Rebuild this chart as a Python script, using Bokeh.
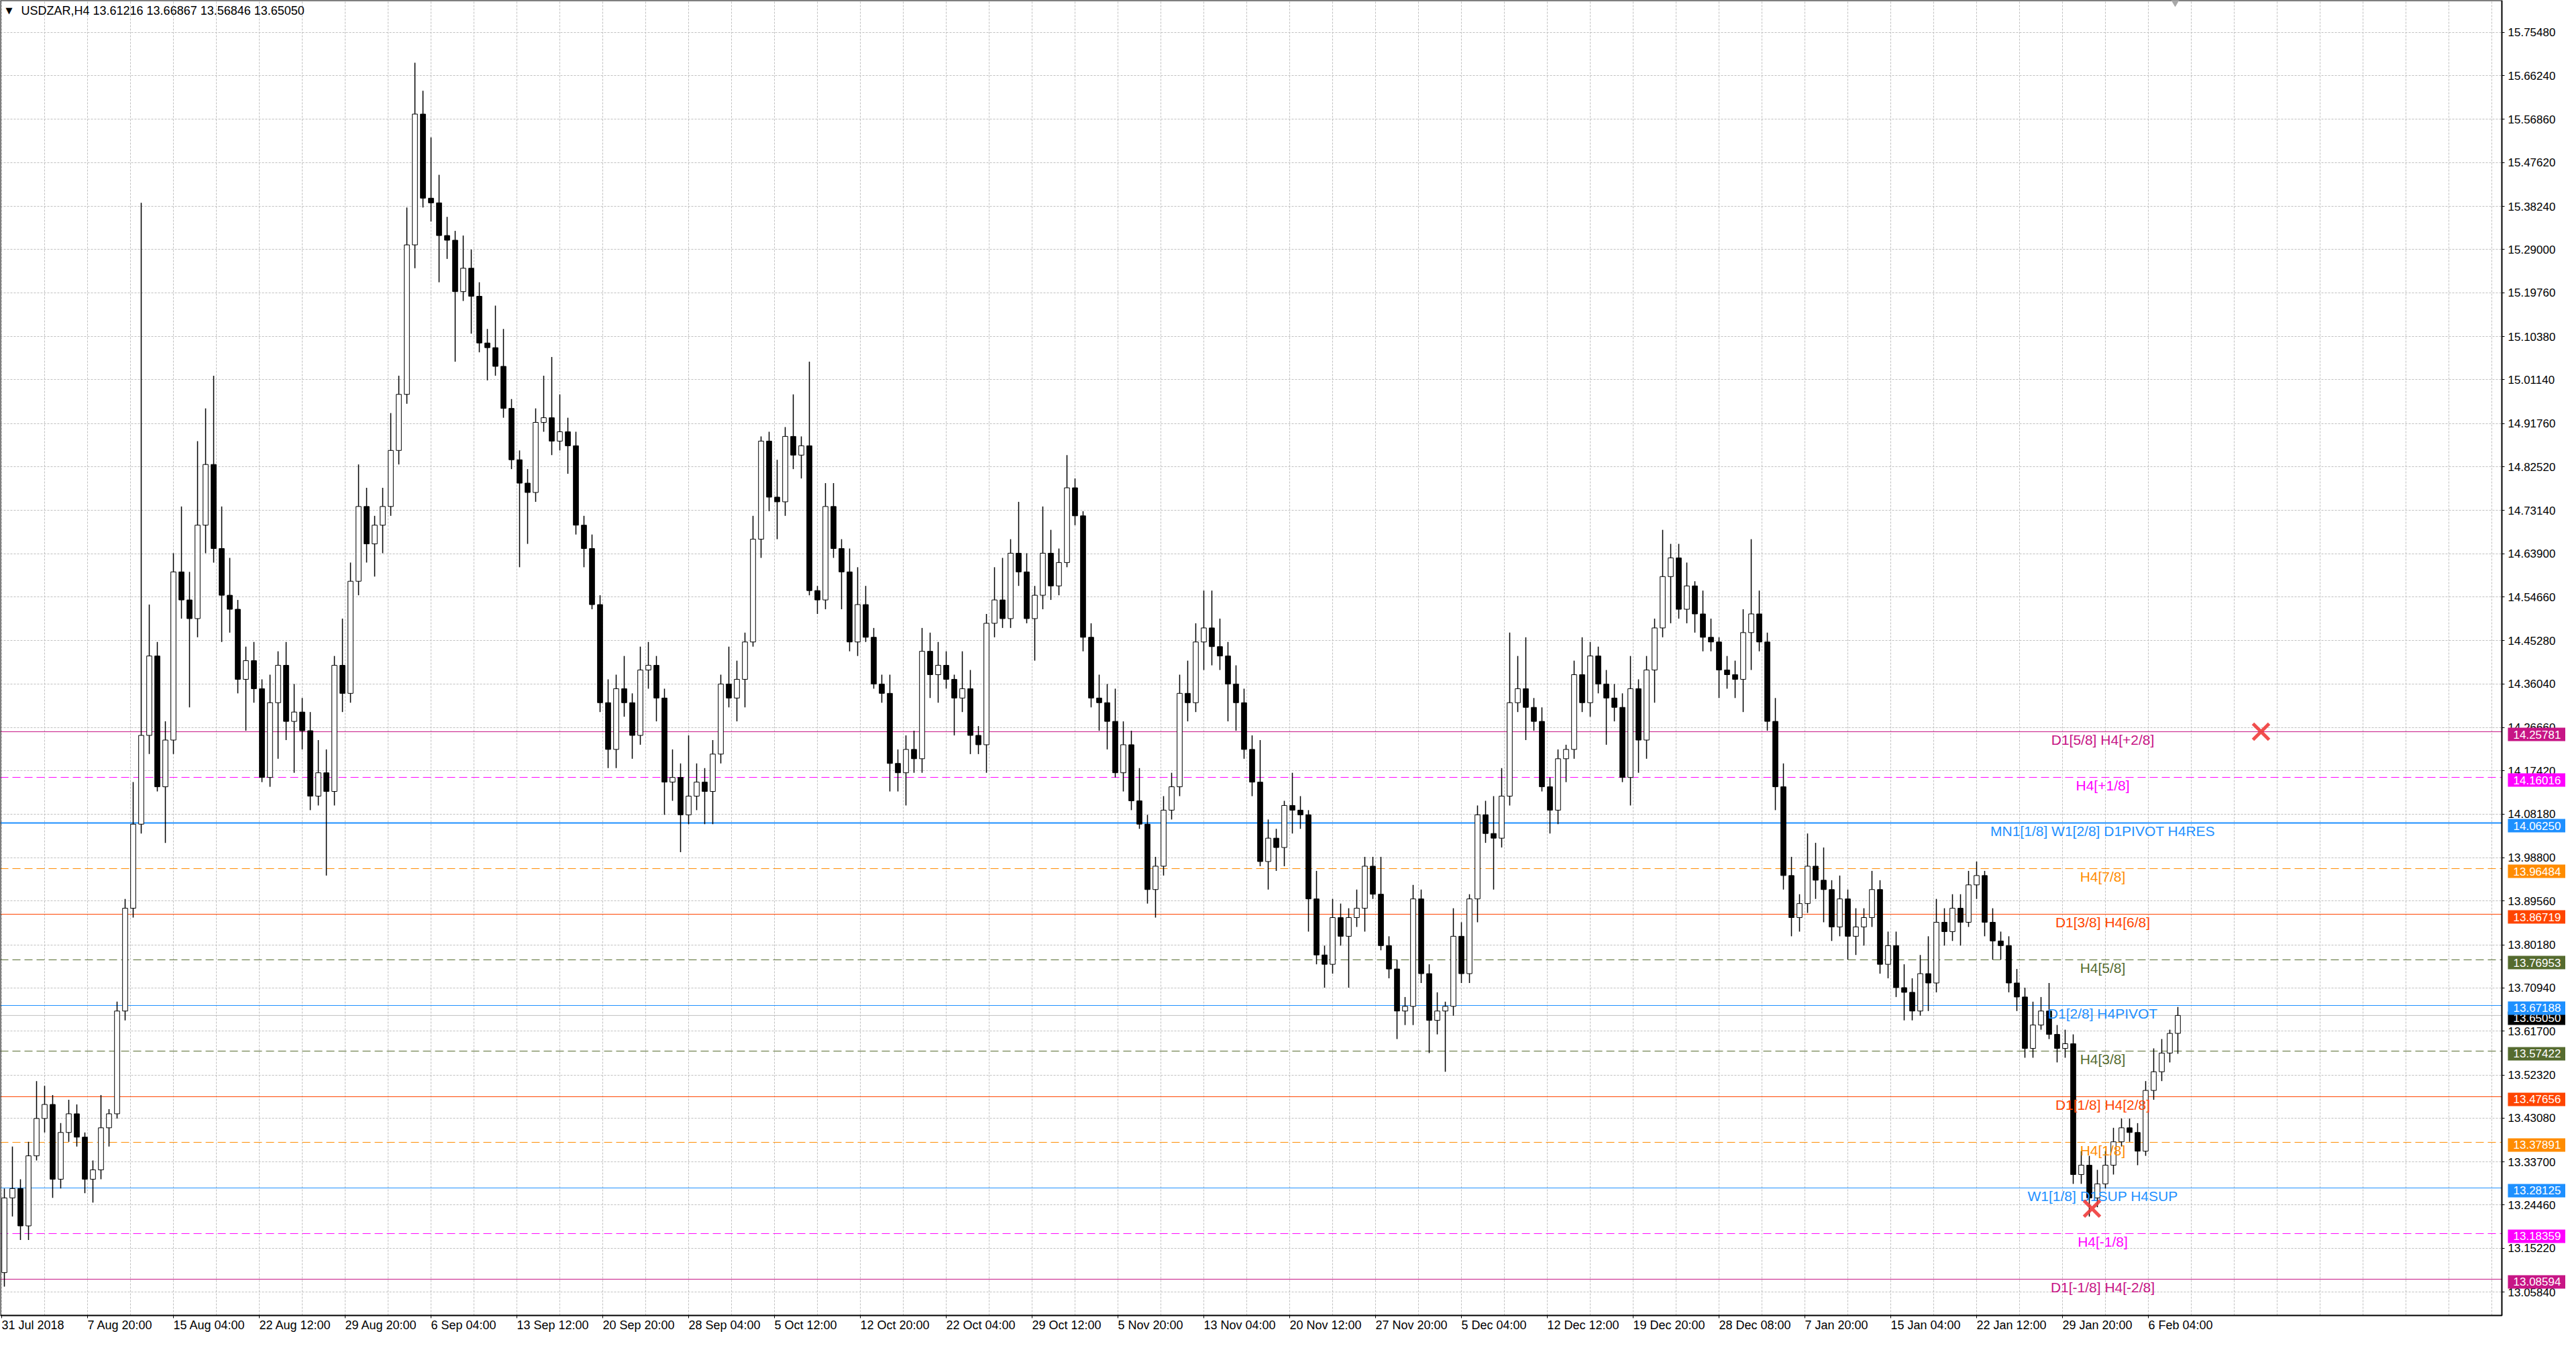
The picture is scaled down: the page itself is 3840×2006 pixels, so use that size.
from bokeh.plotting import figure
from bokeh.models import ColumnDataSource, Range1d, FixedTicker, PrintfTickFormatter, Span, Label
from bokeh.core.properties import value
from bokeh.embed import file_html
from bokeh.resources import INLINE


# Chart data (USDZAR H4, one candle = 3 bars)
symbol = "USDZAR,H4"
last_bar = [13.61216, 13.66867, 13.56846, 13.65050]
first_open = 13.10
closes = [
    13.26, 13.28, 13.20, 13.35, 13.43, 13.46, 13.30, 13.40, 13.44, 13.39,
    13.30, 13.32, 13.41, 13.44, 13.66, 13.88, 14.06, 14.25, 14.42, 14.14,
    14.24, 14.60, 14.54, 14.50, 14.70, 14.83, 14.65, 14.55, 14.52, 14.37,
    14.41, 14.35, 14.16, 14.32, 14.40, 14.28, 14.30, 14.26, 14.12, 14.17,
    14.13, 14.40, 14.34, 14.58, 14.74, 14.66, 14.70, 14.74, 14.86, 14.98,
    15.30, 15.58, 15.40, 15.39, 15.32, 15.31, 15.20, 15.25, 15.19, 15.09,
    15.08, 15.04, 14.95, 14.84, 14.79, 14.77, 14.92, 14.93, 14.88, 14.90,
    14.87, 14.70, 14.65, 14.53, 14.32, 14.22, 14.35, 14.32, 14.25, 14.39,
    14.40, 14.33, 14.15, 14.16, 14.08, 14.12, 14.15, 14.13, 14.21, 14.36,
    14.33, 14.37, 14.45, 14.67, 14.88, 14.76, 14.75, 14.89, 14.85, 14.87,
    14.56, 14.54, 14.74, 14.65, 14.60, 14.45, 14.53, 14.46, 14.36, 14.34,
    14.19, 14.17, 14.22, 14.20, 14.43, 14.38, 14.40, 14.37, 14.33, 14.35,
    14.25, 14.23, 14.49, 14.54, 14.50, 14.64, 14.60, 14.50, 14.55, 14.64,
    14.57, 14.62, 14.78, 14.72, 14.46, 14.33, 14.32, 14.28, 14.17, 14.23,
    14.11, 14.06, 13.92, 13.97, 14.09, 14.14, 14.34, 14.32, 14.45, 14.48,
    14.44, 14.42, 14.36, 14.32, 14.22, 14.15, 13.98, 14.03, 14.01, 14.10,
    14.09, 14.08, 13.90, 13.78, 13.76, 13.86, 13.82, 13.86, 13.88, 13.97,
    13.91, 13.80, 13.75, 13.66, 13.67, 13.90, 13.74, 13.64, 13.66, 13.67,
    13.82, 13.74, 13.90, 14.08, 14.04, 14.03, 14.12, 14.32, 14.35, 14.31,
    14.28, 14.14, 14.09, 14.20, 14.22, 14.38, 14.32, 14.42, 14.36, 14.33,
    14.31, 14.16, 14.35, 14.24, 14.39, 14.48, 14.59, 14.63, 14.52, 14.57,
    14.51, 14.46, 14.45, 14.39, 14.38, 14.37, 14.47, 14.51, 14.45, 14.28,
    14.14, 13.95, 13.86, 13.89, 13.97, 13.94, 13.92, 13.84, 13.90, 13.82,
    13.84, 13.86, 13.92, 13.76, 13.80, 13.71, 13.70, 13.66, 13.74, 13.72,
    13.85, 13.83, 13.88, 13.85, 13.93, 13.95, 13.85, 13.81, 13.80, 13.72,
    13.69, 13.58, 13.63, 13.66, 13.61, 13.58, 13.59, 13.31, 13.33, 13.26,
    13.29, 13.33, 13.38, 13.41, 13.40, 13.36, 13.49, 13.53, 13.57, 13.61216,
    13.65050,
]
highs = [
    13.28, 13.37, 13.30, 13.38, 13.51, 13.50, 13.48, 13.42, 13.47, 13.46,
    13.40, 13.34, 13.48, 13.45, 13.68, 13.90, 14.15, 15.39, 14.53, 14.45,
    14.28, 14.64, 14.74, 14.60, 14.88, 14.95, 15.02, 14.74, 14.63, 14.54,
    14.44, 14.45, 14.37, 14.38, 14.43, 14.45, 14.36, 14.33, 14.30, 14.24,
    14.22, 14.42, 14.50, 14.62, 14.83, 14.78, 14.72, 14.78, 14.94, 15.02,
    15.38, 15.69, 15.63, 15.53, 15.45, 15.36, 15.33, 15.32, 15.29, 15.22,
    15.12, 15.17, 15.12, 14.97, 14.86, 14.82, 14.95, 15.02, 15.06, 14.98,
    14.93, 14.90, 14.72, 14.68, 14.55, 14.37, 14.38, 14.42, 14.34, 14.44,
    14.45, 14.42, 14.35, 14.22, 14.19, 14.25, 14.19, 14.18, 14.24, 14.38,
    14.44, 14.41, 14.47, 14.72, 14.89, 14.90, 14.84, 14.91, 14.98, 14.89,
    15.05, 14.57, 14.79, 14.79, 14.67, 14.65, 14.61, 14.57, 14.48, 14.38,
    14.38, 14.22, 14.25, 14.26, 14.48, 14.47, 14.45, 14.43, 14.38, 14.43,
    14.39, 14.27, 14.51, 14.61, 14.63, 14.67, 14.75, 14.64, 14.57, 14.74,
    14.69, 14.65, 14.85, 14.80, 14.73, 14.49, 14.38, 14.36, 14.35, 14.28,
    14.26, 14.18, 14.08, 13.99, 14.12, 14.17, 14.38, 14.41, 14.49, 14.56,
    14.56, 14.50, 14.45, 14.40, 14.35, 14.25, 14.24, 14.07, 14.05, 14.11,
    14.17, 14.12, 14.09, 13.96, 13.80, 13.90, 13.89, 13.88, 13.92, 13.99,
    13.99, 13.99, 13.82, 13.77, 13.69, 13.93, 13.92, 13.76, 13.70, 13.68,
    13.88, 13.85, 13.91, 14.10, 14.11, 14.12, 14.18, 14.47, 14.42, 14.46,
    14.33, 14.31, 14.16, 14.22, 14.23, 14.41, 14.46, 14.45, 14.44, 14.39,
    14.36, 14.34, 14.42, 14.37, 14.42, 14.50, 14.69, 14.66, 14.66, 14.62,
    14.58, 14.56, 14.50, 14.46, 14.42, 14.41, 14.52, 14.67, 14.56, 14.47,
    14.33, 14.19, 13.99, 13.91, 14.04, 14.02, 14.01, 13.94, 13.95, 13.92,
    13.88, 13.88, 13.96, 13.94, 13.83, 13.83, 13.76, 13.73, 13.78, 13.82,
    13.90, 13.88, 13.91, 13.91, 13.96, 13.98, 13.96, 13.88, 13.83, 13.82,
    13.75, 13.71, 13.68, 13.69, 13.72, 13.63, 13.62, 13.61, 13.36, 13.35,
    13.32, 13.36, 13.41, 13.43, 13.43, 13.42, 13.51, 13.58, 13.60, 13.62,
    13.66867,
]
lows = [
    13.07, 13.22, 13.17, 13.17, 13.34, 13.40, 13.26, 13.28, 13.38, 13.37,
    13.27, 13.25, 13.30, 13.37, 13.43, 13.64, 13.86, 14.04, 14.21, 14.13,
    14.02, 14.21, 14.50, 14.31, 14.46, 14.64, 14.62, 14.45, 14.47, 14.34,
    14.26, 14.32, 14.15, 14.14, 14.20, 14.24, 14.17, 14.22, 14.09, 14.10,
    13.95, 14.10, 14.30, 14.32, 14.55, 14.62, 14.59, 14.64, 14.72, 14.83,
    14.96, 15.25, 15.38, 15.35, 15.22, 15.27, 15.05, 15.18, 15.11, 15.07,
    15.01, 15.02, 14.93, 14.82, 14.61, 14.66, 14.75, 14.90, 14.85, 14.86,
    14.81, 14.68, 14.61, 14.52, 14.30, 14.18, 14.18, 14.29, 14.20, 14.23,
    14.35, 14.28, 14.08, 14.11, 14.00, 14.06, 14.09, 14.06, 14.06, 14.19,
    14.31, 14.28, 14.31, 14.44, 14.63, 14.73, 14.67, 14.72, 14.82, 14.80,
    14.55, 14.51, 14.52, 14.63, 14.52, 14.43, 14.42, 14.45, 14.35, 14.32,
    14.13, 14.13, 14.10, 14.17, 14.17, 14.33, 14.32, 14.35, 14.25, 14.30,
    14.21, 14.21, 14.17, 14.46, 14.48, 14.48, 14.57, 14.49, 14.41, 14.52,
    14.54, 14.55, 14.61, 14.70, 14.43, 14.31, 14.26, 14.22, 14.16, 14.13,
    14.09, 14.05, 13.89, 13.86, 13.95, 14.07, 14.12, 14.28, 14.30, 14.39,
    14.40, 14.39, 14.28, 14.26, 14.20, 14.12, 13.97, 13.92, 13.96, 13.97,
    14.04, 14.05, 13.83, 13.76, 13.71, 13.74, 13.80, 13.71, 13.84, 13.83,
    13.90, 13.79, 13.73, 13.60, 13.63, 13.63, 13.72, 13.57, 13.61, 13.53,
    13.65, 13.72, 13.72, 13.85, 14.02, 13.92, 14.01, 14.10, 14.30, 14.24,
    14.26, 14.13, 14.04, 14.06, 14.15, 14.20, 14.30, 14.29, 14.34, 14.23,
    14.28, 14.15, 14.10, 14.17, 14.20, 14.32, 14.46, 14.49, 14.50, 14.49,
    14.47, 14.43, 14.43, 14.33, 14.35, 14.33, 14.30, 14.39, 14.43, 14.26,
    14.09, 13.92, 13.82, 13.83, 13.87, 13.90, 13.85, 13.81, 13.82, 13.77,
    13.78, 13.80, 13.84, 13.74, 13.73, 13.69, 13.64, 13.64, 13.65, 13.66,
    13.70, 13.80, 13.81, 13.80, 13.84, 13.90, 13.82, 13.77, 13.77, 13.70,
    13.66, 13.56, 13.56, 13.62, 13.60, 13.55, 13.56, 13.29, 13.29, 13.22,
    13.24, 13.28, 13.31, 13.37, 13.38, 13.33, 13.35, 13.47, 13.51, 13.55,
    13.56846,
]
bars_per_candle = 3

# time axis: labels every 32 bars, grid every 16 bars
date_ticks = [0, 32, 64, 96, 128, 160, 192, 224, 256, 288, 320, 352, 384,
              416, 448, 480, 512, 544, 576, 608, 640, 672, 704, 736, 768, 800]
date_labels = ["31 Jul 2018", "7 Aug 20:00", "15 Aug 04:00", "22 Aug 12:00",
               "29 Aug 20:00", "6 Sep 04:00", "13 Sep 12:00", "20 Sep 20:00",
               "28 Sep 04:00", "5 Oct 12:00", "12 Oct 20:00", "22 Oct 04:00",
               "29 Oct 12:00", "5 Nov 20:00", "13 Nov 04:00", "20 Nov 12:00",
               "27 Nov 20:00", "5 Dec 04:00", "12 Dec 12:00", "19 Dec 20:00",
               "28 Dec 08:00", "7 Jan 20:00", "15 Jan 04:00", "22 Jan 12:00",
               "29 Jan 20:00", "6 Feb 04:00"]
grid_bars = [16 * i for i in range(59)]

price_ticks = [13.05840, 13.15220, 13.24460, 13.33700, 13.43080, 13.52320,
               13.61700, 13.70940, 13.80180, 13.89560, 13.98800, 14.08180,
               14.17420, 14.26660, 14.36040, 14.45280, 14.54660, 14.63900,
               14.73140, 14.82520, 14.91760, 15.01140, 15.10380, 15.19760,
               15.29000, 15.38240, 15.47620, 15.56860, 15.66240, 15.75480]

# Murrey math levels drawn on the chart
level_prices = [14.25781, 14.16016, 14.06250, 13.96484, 13.86719, 13.76953, 13.67188,
                13.57422, 13.47656, 13.37891, 13.28125, 13.18359, 13.08594]
level_names = ["D1[5/8] H4[+2/8]", "H4[+1/8]", "MN1[1/8] W1[2/8] D1PIVOT H4RES",
               "H4[7/8]", "D1[3/8] H4[6/8]", "H4[5/8]", "D1[2/8] H4PIVOT", "H4[3/8]",
               "D1[1/8] H4[2/8]", "H4[1/8]", "W1[1/8] D1SUP H4SUP", "H4[-1/8]",
               "D1[-1/8] H4[-2/8]"]
level_colors = ["#C71585", "#FF00FF", "#1E90FF", "#FF8C00", "#FF4500", "#556B2F", "#1E90FF",
                "#556B2F", "#FF4500", "#FF8C00", "#1E90FF", "#FF00FF", "#C71585"]
level_dashed = [False, True, False, True, False, True, False,
                True, False, True, False, True, False]
level_widths = [1, 1, 2, 1, 1, 1, 1, 1, 1, 1, 1, 1, 1]
level_text_bar = 783

cross_bars = [779, 842]
cross_prices = [13.237, 14.258]
shift_bar = 810


opens = [first_open] + closes[:-1]
xs = [bars_per_candle * i + 1 for i in range(len(closes))]
source = ColumnDataSource(dict(
    x=xs,
    high=highs,
    low=lows,
    top=[max(o, c) for o, c in zip(opens, closes)],
    bottom=[min(o, c) for o, c in zip(opens, closes)],
    fill=["white" if c >= o else "black" for o, c in zip(opens, closes)],
))

# the frame fills the whole figure: 4 px per bar;
# the price scale strip (right) and the time scale strip (bottom) live inside it
x_start, x_end = -0.5, 955.5
chart_end = 931.75
y_start, y_end = 12.9652, 15.8235
chart_bottom = 13.0083

p = figure(
    width=3824, height=1990,
    x_range=Range1d(x_start, x_end), y_range=Range1d(y_start, y_end),
    y_axis_location="right",
    toolbar_location=None, output_backend="svg",
    min_border_left=0, min_border_top=0, min_border_right=0, min_border_bottom=0,
)
p.background_fill_color = "white"
p.border_fill_color = "white"
p.outline_line_color = None

# axes
p.yaxis.fixed_location = chart_end
p.xaxis.fixed_location = chart_bottom
p.yaxis.ticker = FixedTicker(ticks=price_ticks)
p.yaxis.formatter = PrintfTickFormatter(format="%.5f")
p.xaxis.ticker = FixedTicker(ticks=date_ticks)
p.xaxis.major_label_overrides = dict(zip(date_ticks, date_labels))
p.xaxis.major_label_orientation = -0.0001
for ax in (p.xaxis, p.yaxis):
    ax.axis_line_color = None
    ax.major_tick_line_color = "black"
    ax.major_tick_in = 0
    ax.major_tick_out = 4
    ax.minor_tick_in = 0
    ax.minor_tick_out = 0
    ax.major_label_text_color = "black"
    ax.major_label_text_font = "Liberation Sans"
p.yaxis.major_label_text_font_size = "17px"
p.yaxis.major_label_standoff = 5
p.xaxis.major_label_text_font_size = "18px"
p.xaxis.major_label_standoff = 11

p.xgrid.ticker = FixedTicker(ticks=grid_bars)
p.grid.grid_line_color = "#c0c0c0"
p.grid.grid_line_dash = "3 2"
p.grid.grid_line_width = 1

# level lines and the bid line
for price, color, dashed, lw in zip(level_prices, level_colors, level_dashed, level_widths):
    p.add_layout(Span(location=price, dimension="width", line_color=color,
                      line_width=lw, line_dash="12 6" if dashed else "solid",
                      level="underlay"))
p.add_layout(Span(location=last_bar[3], dimension="width", line_color="#c0c0c0",
                  line_width=1, level="underlay"))

# blank scale strips and the chart border
p.quad(left=[chart_end, x_start - 2], right=[x_end + 2, x_end + 2],
       bottom=[y_start - 0.1, y_start - 0.1], top=[y_end + 0.1, chart_bottom],
       fill_color="white", line_color=None)
p.quad(left=x_start, right=chart_end, bottom=chart_bottom, top=y_end,
       fill_color=None, line_color="black", line_width=2)

# candles
p.segment(x0="x", y0="high", x1="x", y1="low", source=source,
          line_color="black", line_width=1.5)
p.vbar(x="x", width=1.9, top="top", bottom="bottom", source=source,
       fill_color="fill", line_color="black", line_width=1)

# level captions
p.text(x=[level_text_bar] * len(level_prices), y=level_prices, text=level_names,
       text_color=level_colors, text_align="center", text_baseline="middle",
       y_offset=12, text_font=value("Liberation Sans"), text_font_size="21px")

# trade marks
p.scatter(x=cross_bars, y=cross_prices, marker="x", size=34,
          line_color="#ef3b3b", line_width=5, line_alpha=0.9)
p.scatter(x=[shift_bar], y=[y_end], marker="inverted_triangle", size=16,
          fill_color="#a8a8a8", line_color="#a8a8a8")

# price tags on the right scale
tag_pad = dict(left=8, right=8, top=4, bottom=4)
p.add_layout(Label(x=chart_end, y=last_bar[3], x_offset=9, y_offset=-4,
                   text="%.5f" % last_bar[3],
                   text_color="white", text_font="Liberation Sans", text_font_size="17px",
                   text_align="left", text_baseline="middle",
                   background_fill_color="black", padding=tag_pad))
for price, color in zip(level_prices, level_colors):
    p.add_layout(Label(x=chart_end, y=price, x_offset=9, y_offset=-4, text="%.5f" % price,
                       text_color="white", text_font="Liberation Sans", text_font_size="17px",
                       text_align="left", text_baseline="middle",
                       background_fill_color=color, padding=tag_pad))

# header
p.add_layout(Label(x=x_start, y=y_end, x_offset=8, y_offset=-15, text="\u25BC",
                   text_font="DejaVu Sans", text_font_size="13px", text_color="black",
                   text_baseline="middle"))
p.add_layout(Label(x=x_start, y=y_end, x_offset=31, y_offset=-15,
                   text="%s  %.5f %.5f %.5f %.5f" % (symbol, *last_bar),
                   text_font="Liberation Sans", text_font_size="18px", text_color="black",
                   text_baseline="middle"))

open("out.html", "w").write(file_html(p, INLINE))
